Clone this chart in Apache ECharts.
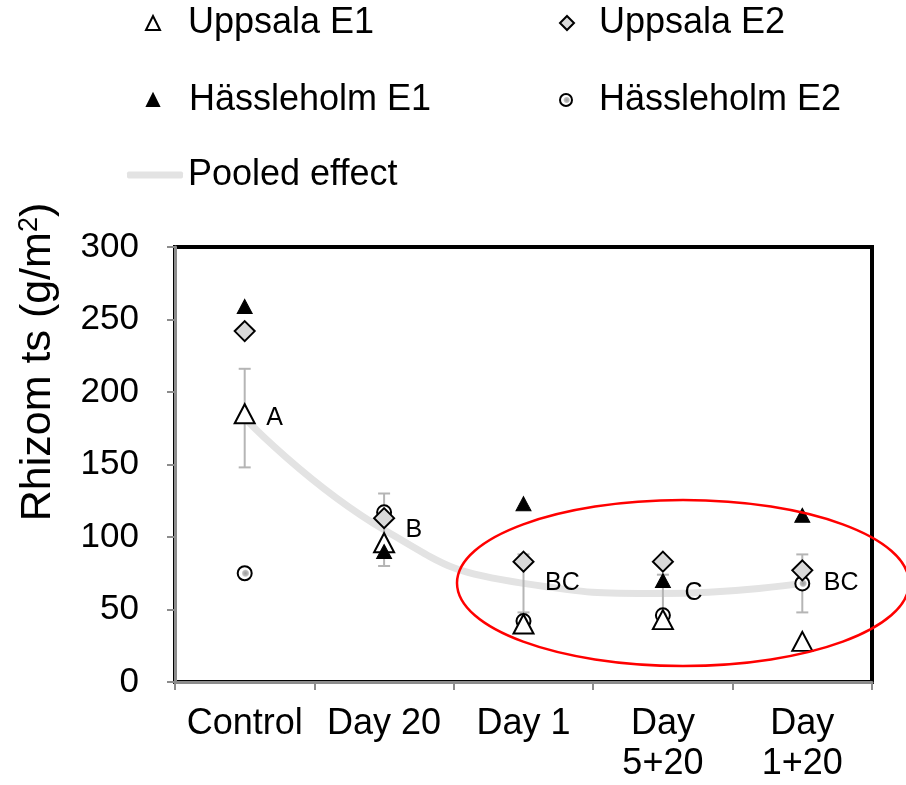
<!DOCTYPE html>
<html>
<head>
<meta charset="utf-8">
<script src="https://cdn.jsdelivr.net/npm/echarts@6/dist/echarts.min.js"></script>
<style>html,body{margin:0;padding:0;background:#fff}#c{width:906px;height:785px}</style>
</head>
<body>
<div id="c"></div>
<script>
const categories = ['Control', 'Day 20', 'Day 1', 'Day\n5+20', 'Day\n1+20'];
const uppsalaE1 = [185, 96, 40, 43, 28];
const uppsalaE2 = [242, 113, 83, 83, 77];
const hassleholmE1 = [259, 90, 123, 70, 115];
const hassleholmE2 = [75, 117, 42, 46, 68];
const pooled = [182, 105, 68, 61, 68];
const pooledErr = [34, 25, 20, 13, 20];
const letters = ['A', 'B', 'BC', 'C', 'BC'];
const yTicks = { min: 0, max: 300, interval: 50 };

const FONT = '"Liberation Sans", Arial, sans-serif';
const chart = echarts.init(document.getElementById('c'), null, { renderer: 'canvas' });

const circleFill = {
  type: 'radial', x: 0.55, y: 0.5, r: 0.5,
  colorStops: [{ offset: 0, color: '#9a9a9a' }, { offset: 0.35, color: '#bdbdbd' }, { offset: 0.5, color: '#ffffff' }, { offset: 1, color: '#ffffff' }]
};

function legendBox(name, left, top, iw, ih, padLeft, extra) {
  return Object.assign({
    data: [name], left: left, top: top, orient: 'horizontal', padding: 0,
    itemWidth: iw, itemHeight: ih, selectedMode: false,
    textStyle: { fontFamily: FONT, fontSize: 36, color: '#000', padding: [0, 0, 0, padLeft] }
  }, extra || {});
}

const option = {
  animation: false,
  backgroundColor: '#fff',
  legend: [
    legendBox('Uppsala E1', 145, 5, 14, 14, 23),
    legendBox('Uppsala E2', 559, 5, 14, 14, 20),
    legendBox('Hässleholm E1', 146, 82, 12, 12, 25),
    legendBox('Hässleholm E2', 559, 82, 12, 12, 22),
    legendBox('Pooled effect', 127, 157, 56, 7, 0, {
      data: [{ name: 'Pooled effect', icon: 'roundRect', itemStyle: { color: '#e3e3e3' } }]
    })
  ],
  grid: { left: 175, right: 34, top: 247, bottom: 103, containLabel: false, outerBoundsMode: 'none',
          show: true, borderColor: '#000', borderWidth: 4, backgroundColor: 'transparent' },
  xAxis: {
    type: 'category', data: categories, boundaryGap: true,
    axisLine: { show: true, lineStyle: { color: '#8c8c8c', width: 3 } },
    axisTick: { show: true, alignWithLabel: false, interval: 0, length: 8, lineStyle: { color: '#8c8c8c', width: 2 } },
    axisLabel: { interval: 0, margin: 22, fontFamily: FONT, fontSize: 36, color: '#000', lineHeight: 40 },
    splitLine: { show: false }
  },
  yAxis: {
    type: 'value', min: yTicks.min, max: yTicks.max, interval: yTicks.interval,
    axisLine: { show: true, lineStyle: { color: '#8c8c8c', width: 3 } },
    axisTick: { show: true, length: 8, lineStyle: { color: '#8c8c8c', width: 2 } },
    axisLabel: { margin: 36, fontFamily: FONT, fontSize: 35, color: '#000' },
    splitLine: { show: false }
  },
  graphic: [
    {
      type: 'text', x: 38, y: 362, rotation: Math.PI / 2, z: 100,
      style: {
        text: 'Rhizom ts (g/m{sup|2})', fontFamily: FONT, fontSize: 43, fill: '#000',
        align: 'center', verticalAlign: 'middle',
        rich: { sup: { fontFamily: FONT, fontSize: 27, verticalAlign: 'top', padding: [0, 0, 17, 0] } }
      }
    },
    {
      type: 'ellipse', z: 100, silent: true,
      shape: { cx: 683, cy: 583, rx: 226, ry: 83 },
      style: { fill: 'none', stroke: '#ff0000', lineWidth: 2.5 }
    }
  ],
  series: [
    {
      name: 'Pooled effect', type: 'line', data: pooled, smooth: 0.5, symbol: 'none', z: 1,
      lineStyle: { color: '#e3e3e3', width: 7 }, itemStyle: { color: '#e3e3e3' }
    },
    {
      name: 'errors', type: 'custom', z: 2,
      data: categories.map((c, i) => [i, pooled[i], pooledErr[i]]),
      renderItem: function (params, api) {
        const i = api.value(0), m = api.value(1), e = api.value(2);
        const top = api.coord([i, m + e]);
        const bot = api.coord([i, m - e]);
        const hw = 6;
        const st = { stroke: '#b5b5b5', lineWidth: 2 };
        return {
          type: 'group', children: [
            { type: 'line', shape: { x1: top[0], y1: top[1], x2: bot[0], y2: bot[1] }, style: st },
            { type: 'line', shape: { x1: top[0] - hw, y1: top[1], x2: top[0] + hw, y2: top[1] }, style: st },
            { type: 'line', shape: { x1: bot[0] - hw, y1: bot[1], x2: bot[0] + hw, y2: bot[1] }, style: st }
          ]
        };
      }
    },
    {
      name: 'Hässleholm E2', type: 'scatter', data: hassleholmE2, symbol: 'circle', symbolSize: 14, z: 3,
      itemStyle: { color: circleFill, borderColor: '#000', borderWidth: 2, opacity: 1 }
    },
    {
      name: 'Uppsala E2', type: 'scatter', data: uppsalaE2, symbol: 'diamond', symbolSize: [20, 20], z: 4,
      itemStyle: { color: '#d9d9d9', borderColor: '#000', borderWidth: 2, opacity: 1 }
    },
    {
      name: 'Uppsala E1', type: 'scatter', data: uppsalaE1, symbol: 'triangle', symbolSize: [20, 19], z: 5,
      itemStyle: { color: '#fff', borderColor: '#000', borderWidth: 2, opacity: 1 }
    },
    {
      name: 'Hässleholm E1', type: 'scatter', data: hassleholmE1, symbol: 'triangle', symbolSize: [15, 14], z: 6,
      itemStyle: { color: '#000', borderColor: '#000', borderWidth: 1, opacity: 1 }
    },
    {
      name: 'letters', type: 'scatter', z: 7, symbol: 'circle', symbolSize: 1,
      data: pooled.map((v, i) => ({ value: v, label: { formatter: letters[i] } })),
      itemStyle: { color: 'rgba(0,0,0,0)' },
      label: { show: true, position: 'right', distance: 21, fontFamily: FONT, fontSize: 25, color: '#000', opacity: 1 }
    }
  ]
};
chart.setOption(option);
</script>
</body>
</html>
